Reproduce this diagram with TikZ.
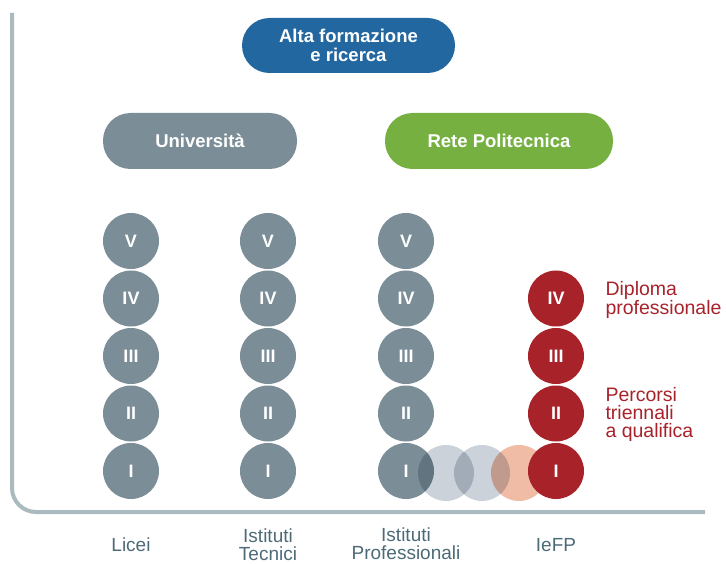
\documentclass[tikz,border=0pt]{standalone}
\usepackage{fontspec}
\setmainfont{Liberation Sans}
\usetikzlibrary{positioning}
\definecolor{frame}{HTML}{A9BBBF}
\definecolor{slate}{HTML}{7B8D97}
\definecolor{bluebox}{HTML}{2267A0}
\definecolor{greenbox}{HTML}{76B041}
\definecolor{redc}{HTML}{A8222A}
\definecolor{lightc}{HTML}{CBD2D9}
\definecolor{orangec}{HTML}{F0BCA6}
\definecolor{labelc}{HTML}{4D6A77}
\tikzset{
  pill/.style={rectangle, rounded corners=27.5pt, minimum height=56pt, inner sep=0pt,
    text=white, align=center, font=\fontsize{18.5}{18.5}\selectfont\bfseries},
  yearc/.style={circle, minimum size=56pt, inner sep=0pt, text=white,
    font=\fontsize{18}{18}\selectfont\bfseries},
  grayc/.style={yearc, fill=slate},
  redyc/.style={yearc, fill=redc},
  bridgec/.style={circle, minimum size=56pt, inner sep=0pt, blend mode=multiply},
  bottomlbl/.style={align=center, text=labelc, font=\fontsize{19}{18}\selectfont},
  redlbl/.style={align=left, anchor=west, text=redc, font=\fontsize{19.5}{18}\selectfont}
}
\begin{document}
\begin{tikzpicture}[x=1pt,y=-1pt]
\useasboundingbox (0,0) rectangle (726,564);
% frame
\draw[frame, line width=4pt, rounded corners=24pt] (12,13) -- (12,512) -- (705,512);
% top boxes
\node[pill, fill=bluebox, minimum width=213pt, minimum height=55pt] (alta) at (348.5,45.5) {Alta formazione\\e ricerca};
\node[pill, fill=slate, minimum width=194pt] (uni) at (200,141) {Università};
\node[pill, fill=greenbox, minimum width=228pt] (rete) at (499,141) {Rete Politecnica};
% columns
\foreach \c/\x in {l/131, t/268, p/406}{
  \node[grayc] (\c5) at (\x,241) {V};
  \node[grayc] (\c4) at (\x,298.5) {IV};
  \node[grayc] (\c3) at (\x,356) {III};
  \node[grayc] (\c2) at (\x,413.5) {II};
  \node[grayc] (\c1) at (\x,471) {I};
}
% bridge circles
\node[bridgec, fill=lightc] (b1) at (446,473) {};
\node[bridgec, fill=lightc] (b2) at (482,473) {};
\node[bridgec, fill=orangec] (b3) at (519,473) {};
% IeFP column
\node[redyc] (f4) at (556,298.5) {IV};
\node[redyc] (f3) at (556,356) {III};
\node[redyc] (f2) at (556,413.5) {II};
\node[redyc] (f1) at (556,471) {I};
% red labels
\node[redlbl] (dipl) at (602,300) {Diploma\\professionale};
\node[redlbl] (perc) at (602,414) {Percorsi\\triennali\\a qualifica};
% bottom labels
\node[bottomlbl] (licei) at (131,545) {Licei};
\node[bottomlbl] (tec) at (268,545) {Istituti\\Tecnici};
\node[bottomlbl] (prof) at (406,544) {Istituti\\Professionali};
\node[bottomlbl] (iefp) at (556,545) {IeFP};
\end{tikzpicture}
\end{document}
